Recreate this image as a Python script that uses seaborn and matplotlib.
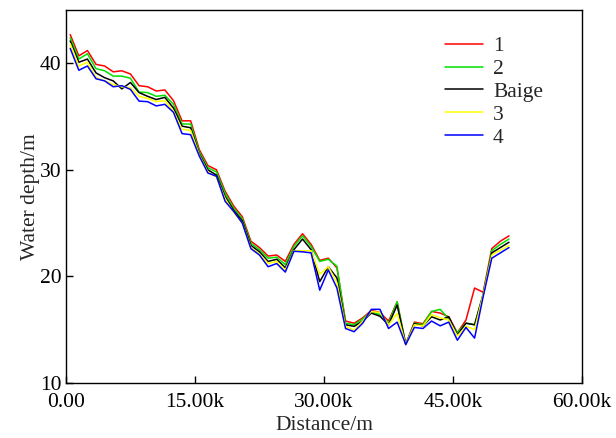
import numpy as np
import pandas as pd
import matplotlib
matplotlib.use("Agg")
import matplotlib.pyplot as plt
import seaborn as sns
from matplotlib.ticker import FuncFormatter

# distance of each section (m)
distance = [500 + 1000 * i for i in range(52)]

depth_1 = [42.7, 40.7, 41.2, 39.9, 39.75, 39.2, 39.3, 39.0, 37.9, 37.8, 37.4, 37.5, 36.5, 34.6, 34.6,
           31.9, 30.4, 30.0, 28.0, 26.6, 25.6, 23.3, 22.7, 21.9, 22.0, 21.4,
           23.0, 24.0, 23.0, 21.5, 21.7, 20.8,
           15.8, 15.6, 16.1, 16.8, 16.6, 15.8, 17.6,
           13.6, 15.7, 15.55, 16.7, 16.55, 16.2, 14.7, 15.9, 18.9, 18.5, 22.6, 23.3, 23.8]
depth_2 = [42.4, 40.4, 40.9, 39.5, 39.3, 38.8, 38.8, 38.6, 37.3, 37.25, 36.9, 37.0, 36.15, 34.3, 34.3,
           31.7, 30.2, 29.8, 27.8, 26.4, 25.4, 23.1, 22.5, 21.7, 21.8, 21.1,
           22.8, 23.8, 22.8, 21.4, 21.6, 20.95,
           15.6, 15.45, 16.0, 16.7, 16.4, 15.6, 17.6,
           13.6, 15.6, 15.45, 16.7, 16.9, 16.0, 14.7, 15.6, 15.45, 18.3, 22.4, 23.0, 23.5]
depth_baige = [42.1, 40.1, 40.4, 39.1, 38.65, 38.35, 37.6, 38.2, 37.25, 36.9, 36.6, 36.8, 35.8, 34.1, 33.95,
               31.5, 30.0, 29.5, 27.5, 26.2, 25.2, 22.9, 22.3, 21.4, 21.6, 20.8,
               22.5, 23.5, 22.5, 19.5, 20.9, 19.85,
               15.45, 15.3, 15.8, 16.55, 16.25, 15.45, 17.3,
               13.6, 15.55, 15.35, 16.2, 15.9, 16.2, 14.5, 15.6, 15.45, 18.3, 22.2, 22.7, 23.2]
depth_3 = [41.85, 39.75, 40.1, 38.65, 38.35, 38.0, 37.8, 37.7, 36.9, 36.7, 36.4, 36.5, 35.5, 33.8, 33.7,
           31.4, 29.8, 29.3, 27.3, 26.0, 25.0, 22.7, 22.1, 21.2, 21.4, 20.6,
           22.4, 22.4, 22.4, 20.2, 20.9, 19.4,
           15.3, 14.95, 15.8, 16.7, 16.6, 15.45, 16.5,
           13.6, 15.45, 15.35, 16.4, 16.1, 15.9, 14.4, 15.3, 15.0, 18.3, 22.0, 22.45, 22.9]
depth_4 = [41.4, 39.35, 39.75, 38.55, 38.35, 37.8, 37.9, 37.55, 36.45, 36.4, 36.0, 36.15, 35.4, 33.4, 33.3,
           31.3, 29.7, 29.4, 27.05, 26.1, 25.0, 22.6, 22.0, 20.9, 21.2, 20.4,
           22.35, 22.3, 22.2, 18.7, 20.6, 18.9,
           15.1, 14.8, 15.6, 16.9, 16.9, 15.1, 15.7,
           13.6, 15.2, 15.1, 15.8, 15.35, 15.7, 14.0, 15.2, 14.2, 18.1, 21.7, 22.2, 22.7]

series_names = ["1", "2", "Baige", "3", "4"]
series_colors = ["#ff0000", "#00e000", "#000000", "#ffff00", "#0000ff"]

frames = []
for name, vals in zip(series_names, [depth_1, depth_2, depth_baige, depth_3, depth_4]):
    frames.append(pd.DataFrame({"Distance": distance, "Depth": vals, "Case": name}))
df = pd.concat(frames, ignore_index=True)

sns.set_style("ticks")
plt.rcParams["font.family"] = ["Liberation Serif", "DejaVu Serif"]

fig = plt.figure(figsize=(6.16, 4.38), dpi=100)
ax = fig.add_axes([0.107, 0.126, 0.838, 0.851])

sns.lineplot(data=df, x="Distance", y="Depth", hue="Case", hue_order=series_names,
             palette=series_colors, linewidth=1.1, ax=ax, sort=False)

ax.set_xlim(0, 60000)
ax.set_ylim(10, 45)
ax.set_xticks([0, 15000, 30000, 45000, 60000])
ax.set_yticks([10, 20, 30, 40])
ax.xaxis.set_major_formatter(FuncFormatter(lambda v, p: "0.00" if v == 0 else f"{v/1000:.2f}k"))
ax.tick_params(direction="in", length=5, width=1, labelsize=15.5, colors="black")
ax.tick_params(axis="x", pad=7)
ax.tick_params(axis="y", pad=3)
for s in ax.spines.values():
    s.set_linewidth(1.0)
    s.set_color("black")
ax.set_xlabel("Distance/m", fontsize=15.5, labelpad=3)
ax.set_ylabel("Water depth/m", fontsize=15.5, labelpad=0)

leg = ax.legend(frameon=False, fontsize=15.5, loc="upper left", bbox_to_anchor=(0.696, 0.982),
                handlelength=1.8, handletextpad=0.45, labelspacing=0.13, borderpad=0.4)
for h in leg.get_lines():
    h.set_linewidth(1.1)

fig.savefig("out.png", dpi=100)
